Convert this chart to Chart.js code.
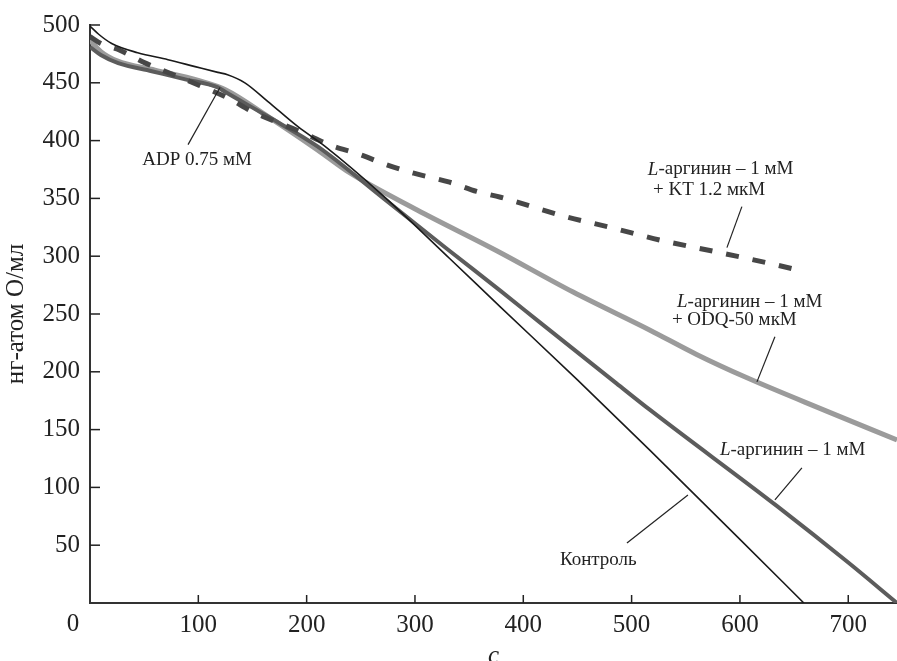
<!DOCTYPE html>
<html>
<head>
<meta charset="utf-8">
<script src="https://cdn.jsdelivr.net/npm/chart.js@4.4.0/dist/chart.umd.min.js"></script>
<style>
  html, body { margin: 0; padding: 0; background: #fff; }
  #wrap { width: 897px; height: 661px; }
</style>
</head>
<body>
<div id="wrap"><canvas id="chart" width="897" height="661"></canvas></div>
<script>
// время, с  /  нг-атом О/мл
const controlX = [0, 8, 20, 44, 72, 97, 118, 127, 143, 164, 192, 217, 271, 332, 379, 450, 517, 600, 659];
const controlY = [499, 492, 484, 476, 470, 464, 459, 457, 450, 434, 412, 395, 352, 298, 256, 193, 132, 55, 0];

const argX = [0, 10, 26, 57, 88, 118, 125, 164, 210, 271, 330, 379, 415, 486, 517, 634, 700, 745];
const argY = [481, 474, 467, 460, 453, 446, 442, 421, 395, 350, 306, 270, 243, 190, 167, 84, 35, 0];

const odqX = [0, 10, 25, 60, 100, 125, 164, 210, 240, 302, 375, 446, 517, 560, 606, 680, 745];
const odqY = [487, 477, 469, 461, 452, 444, 421, 392, 372, 340, 305, 269, 236, 215, 195, 166, 141];

const ktX = [0, 10, 28, 49, 90, 127, 150, 196, 222, 249, 274, 298, 332, 357, 379, 440, 480, 526, 582, 631, 658];
const ktY = [490, 484, 478, 468, 452, 437, 425, 407, 396, 388, 379, 372, 364, 356, 351, 334, 325, 314, 303, 293, 287];

const xTicks = [0, 100, 200, 300, 400, 500, 600, 700];
const yTicks = [50, 100, 150, 200, 250, 300, 350, 400, 450, 500];

// подписи кривых (в координатах данных)
const notes = [
  { lines: [{ x: 98.8, y: 383.5, text: 'ADP 0.75 мМ', align: 'center' }], leader: [[90.5, 396.5], [120, 446]] },
  { lines: [{ x: 515, y: 375, text: 'L-аргинин – 1 мМ' }, { x: 519.7, y: 357.6, text: '+ KT 1.2 мкМ' }], leader: [[601.8, 342.9], [588, 307.4]] },
  { lines: [{ x: 541.9, y: 260.6, text: 'L-аргинин – 1 мМ' }, { x: 537.2, y: 245, text: '+ ODQ-50 мкМ' }], leader: [[632.3, 230.3], [615.7, 191.3]] },
  { lines: [{ x: 581.5, y: 132.5, text: 'L-аргинин – 1 мМ' }], leader: [[657.2, 116.9], [632.3, 89.2]] },
  { lines: [{ x: 433.8, y: 37.2, text: 'Контроль' }], leader: [[495.7, 51.9], [552, 93.5]] }
];

const FONT = "'Liberation Serif', 'Times New Roman', serif";

function toPoints(xs, ys) {
  return xs.map((x, i) => ({ x: x, y: ys[i] }));
}

const annotate = {
  id: 'annotate',
  afterDatasetsDraw(chart) {
    const { ctx, scales: { x, y } } = chart;
    ctx.save();
    ctx.strokeStyle = '#222';
    ctx.fillStyle = '#222';

    // короткие риски внутрь
    ctx.lineWidth = 1.5;
    xTicks.forEach((v) => {
      if (v === 0) return;
      const px = x.getPixelForValue(v);
      ctx.beginPath();
      ctx.moveTo(px, x.top);
      ctx.lineTo(px, x.top - 8);
      ctx.stroke();
    });
    yTicks.forEach((v) => {
      const py = y.getPixelForValue(v);
      ctx.beginPath();
      ctx.moveTo(y.right, py);
      ctx.lineTo(y.right + 10, py);
      ctx.stroke();
    });

    // "0" в углу
    ctx.font = '25px ' + FONT;
    ctx.textAlign = 'center';
    ctx.textBaseline = 'middle';
    ctx.fillText('0', x.left - 17, x.top + 21);

    // выноски
    ctx.lineWidth = 1.2;
    notes.forEach((n) => {
      ctx.beginPath();
      ctx.moveTo(x.getPixelForValue(n.leader[0][0]), y.getPixelForValue(n.leader[0][1]));
      ctx.lineTo(x.getPixelForValue(n.leader[1][0]), y.getPixelForValue(n.leader[1][1]));
      ctx.stroke();
      n.lines.forEach((l) => {
        let px = x.getPixelForValue(l.x);
        const py = y.getPixelForValue(l.y);
        ctx.textBaseline = 'middle';
        if (l.text.startsWith('L-')) {
          ctx.textAlign = 'left';
          ctx.font = 'italic 19px ' + FONT;
          ctx.fillText('L', px, py);
          px += ctx.measureText('L').width;
          ctx.font = '19px ' + FONT;
          ctx.fillText(l.text.slice(1), px, py);
        } else {
          ctx.textAlign = l.align || 'left';
          ctx.font = '19px ' + FONT;
          ctx.fillText(l.text, px, py);
        }
      });
    });
    ctx.restore();
  }
};

new Chart(document.getElementById('chart'), {
  type: 'line',
  data: {
    datasets: [
      {
        label: 'Контроль',
        data: toPoints(controlX, controlY),
        borderColor: '#1a1a1a',
        borderWidth: 1.6
      },
      {
        label: 'L-аргинин – 1 мМ + KT 1.2 мкМ',
        data: toPoints(ktX, ktY),
        borderColor: '#474747',
        borderWidth: 5,
        borderDash: [13, 14]
      },
      {
        label: 'L-аргинин – 1 мМ',
        data: toPoints(argX, argY),
        borderColor: '#5c5c5c',
        borderWidth: 4
      },
      {
        label: 'L-аргинин – 1 мМ + ODQ-50 мкМ',
        data: toPoints(odqX, odqY),
        borderColor: '#9b9b9b',
        borderWidth: 5
      }
    ]
  },
  options: {
    responsive: false,
    animation: false,
    devicePixelRatio: 1,
    layout: { padding: { top: 25, right: 0, left: 0, bottom: 0 } },
    elements: {
      point: { radius: 0 },
      line: { cubicInterpolationMode: 'monotone', fill: false }
    },
    plugins: {
      legend: { display: false },
      tooltip: { enabled: false }
    },
    scales: {
      x: {
        type: 'linear',
        min: 0,
        max: 745,
        afterBuildTicks: (s) => { s.ticks = xTicks.map((v) => ({ value: v })); },
        afterFit: (s) => { s.height = 58; },
        grid: { display: false, drawTicks: false },
        border: { display: true, color: '#333', width: 2 },
        ticks: {
          color: '#222',
          padding: 7,
          maxRotation: 0,
          font: { family: FONT, size: 25 },
          callback: (v) => (v === 0 ? '' : v)
        },
        title: {
          display: true,
          text: 'c',
          color: '#222',
          padding: { top: 0, bottom: 0 },
          font: { family: FONT, size: 25, style: 'italic', lineHeight: 0.4 }
        }
      },
      y: {
        type: 'linear',
        min: 0,
        max: 500,
        afterBuildTicks: (s) => { s.ticks = yTicks.map((v) => ({ value: v })); },
        afterFit: (s) => { s.width = 90; },
        grid: { display: false, drawTicks: false },
        border: { display: true, color: '#333', width: 2 },
        ticks: {
          color: '#222',
          padding: 10,
          font: { family: FONT, size: 25 }
        },
        title: {
          display: true,
          text: 'нг-атом О/мл',
          color: '#222',
          padding: { top: 4, bottom: 0 },
          font: { family: FONT, size: 25, lineHeight: 1 }
        }
      }
    }
  },
  plugins: [annotate]
});
</script>
</body>
</html>
